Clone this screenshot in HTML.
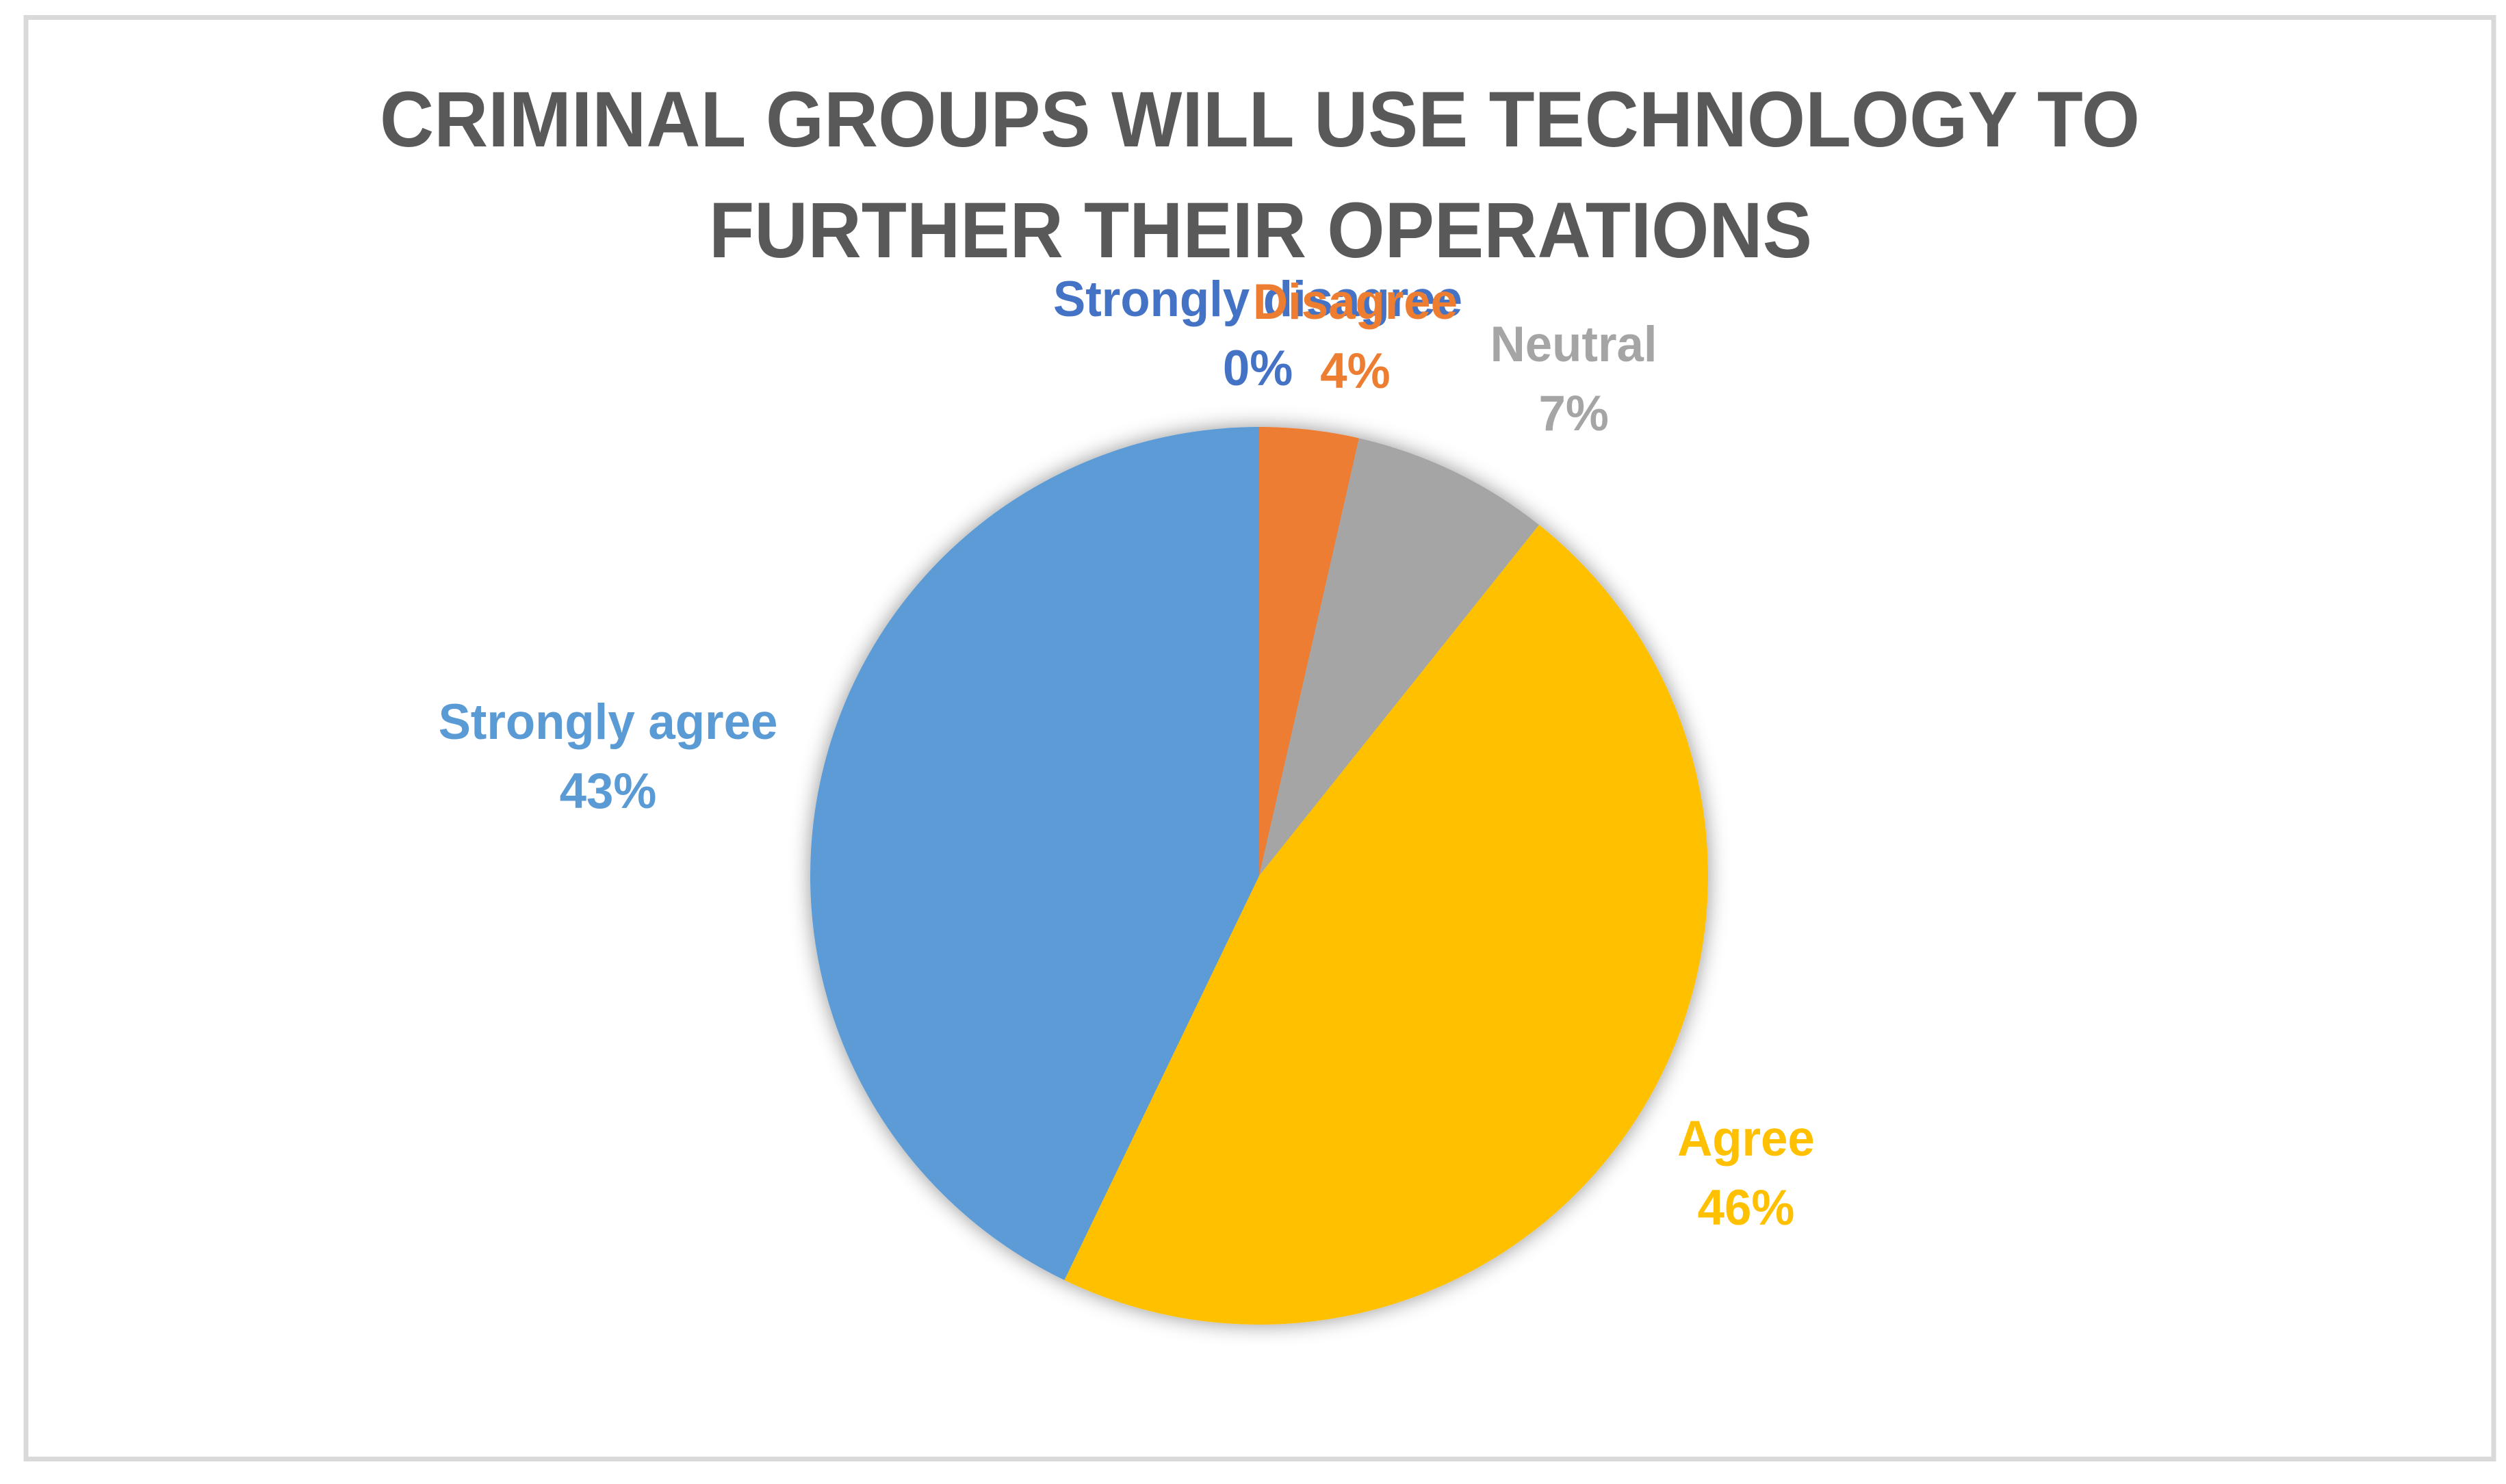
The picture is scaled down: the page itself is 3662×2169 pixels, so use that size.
<!DOCTYPE html>
<html lang="en">
<head>
<meta charset="utf-8">
<title>Criminal groups will use technology to further their operations</title>
<style>
  html, body { margin: 0; padding: 0; background: #ffffff; }
  body { width: 3662px; height: 2169px; overflow: hidden; }
  svg { display: block; }
  text { font-family: "Liberation Sans", sans-serif; font-weight: 700; }
</style>
</head>
<body>
<svg id="chart" xmlns="http://www.w3.org/2000/svg" width="3662" height="2169" viewBox="0 0 3662 2169">
  <defs>
    <filter id="pie-shadow" x="-10%" y="-10%" width="120%" height="120%">
      <feDropShadow dx="0" dy="0" stdDeviation="15" flood-color="#000000" flood-opacity="0.42"/>
    </filter>
  </defs>
  <rect x="0" y="0" width="3662" height="2169" fill="#ffffff"/>
  <rect x="38" y="25.5" width="3606" height="2107" fill="#ffffff" stroke="#d9d9d9" stroke-width="7"/>
  <g fill="#595959" font-size="115">
    <text x="555" y="214" textLength="2572" lengthAdjust="spacingAndGlyphs">CRIMINAL GROUPS WILL USE TECHNOLOGY TO</text>
    <text x="1036" y="376" textLength="1612" lengthAdjust="spacingAndGlyphs">FURTHER THEIR OPERATIONS</text>
  </g>
  <g id="slices" filter="url(#pie-shadow)"></g>
  <g id="labels"></g>
</svg>
<script>
const categories = ["Strongly disagree", "Disagree", "Neutral", "Agree", "Strongly agree"];
const seriesValues = [0, 1, 2, 13, 12];
const sliceColors = ["#4472C4", "#ED7D31", "#A5A5A5", "#FFC000", "#5B9BD5"];
const labelOffsets = [[-2, -162], [67, -162], [175, -161], [156, 60], [-312, -54]];

const SVG_NS = "http://www.w3.org/2000/svg";
const pieCx = 1840;
const pieCy = 1280;
const pieR = 656;
const labelSize = 73;
const labelLineGap = 101;
const labelScaleX = 0.97;

const total = seriesValues.reduce(function (a, b) { return a + b; }, 0);

function angleOf(cumulative) {
  return cumulative / total * 2 * Math.PI;
}
function polarX(angle, r) {
  return pieCx + r * Math.sin(angle);
}
function polarY(angle, r) {
  return pieCy - r * Math.cos(angle);
}
function slug(s) {
  return s.toLowerCase().replace(/\s+/g, "-");
}

const sliceLayer = document.getElementById("slices");
const labelLayer = document.getElementById("labels");
let cumulative = 0;

categories.forEach(function (name, i) {
  const value = seriesValues[i];
  const a0 = angleOf(cumulative);
  const a1 = angleOf(cumulative + value);
  const mid = (a0 + a1) / 2;
  cumulative += value;

  const path = document.createElementNS(SVG_NS, "path");
  const large = (a1 - a0) > Math.PI ? 1 : 0;
  path.setAttribute("d",
    "M" + pieCx + " " + pieCy +
    " L" + polarX(a0, pieR) + " " + polarY(a0, pieR) +
    " A" + pieR + " " + pieR + " 0 " + large + " 1 " + polarX(a1, pieR) + " " + polarY(a1, pieR) +
    " Z");
  path.setAttribute("fill", sliceColors[i]);
  
  
  sliceLayer.appendChild(path);

  const lx = polarX(mid, pieR) + labelOffsets[i][0];
  const ly = polarY(mid, pieR) + labelOffsets[i][1];

  const group = document.createElementNS(SVG_NS, "g");
  group.setAttribute("transform", "translate(" + lx + " " + ly + ") scale(" + labelScaleX + " 1)");
  group.setAttribute("fill", sliceColors[i]);
  group.setAttribute("font-size", labelSize);
  group.setAttribute("text-anchor", "middle");
  
  

  const nameText = document.createElementNS(SVG_NS, "text");
  nameText.setAttribute("x", 0);
  nameText.setAttribute("y", 0);
  nameText.textContent = name;
  
  
  group.appendChild(nameText);

  const pctText = document.createElementNS(SVG_NS, "text");
  pctText.setAttribute("x", 0);
  pctText.setAttribute("y", labelLineGap);
  pctText.textContent = Math.round(value / total * 100) + "%";
  
  
  group.appendChild(pctText);

  labelLayer.appendChild(group);
});
</script>
</body>
</html>
